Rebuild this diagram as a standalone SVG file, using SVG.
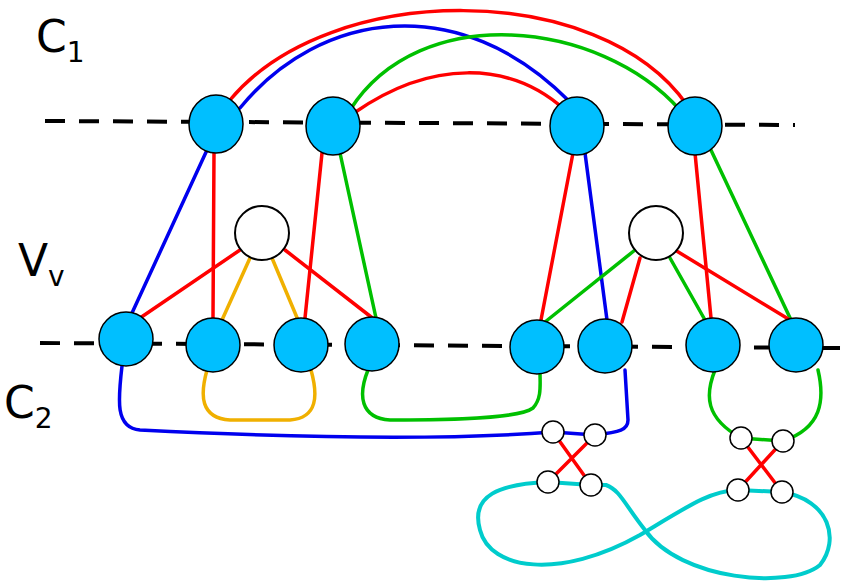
<svg xmlns="http://www.w3.org/2000/svg" width="843" height="584" viewBox="0 0 843 584">
<style>
.n{fill:#00bfff;stroke:#000;stroke-width:1.5}
.w{fill:#fff;stroke:#000;stroke-width:2}
.s{fill:#fff;stroke:#000;stroke-width:1.5}
.e{fill:none;stroke-width:3.5;stroke-linecap:round}
.r{stroke:#ff0000}.b{stroke:#0000ee}.g{stroke:#00c000}.o{stroke:#f0b000}.c{stroke:#00cccc;stroke-width:4}
.d{stroke:#000;stroke-width:4;stroke-dasharray:20,14;fill:none}
text{font-family:"DejaVu Sans",sans-serif;font-size:44px;fill:#000}
</style>
<rect width="843" height="584" fill="#fff"/>
<line class="d" x1="45" y1="121" x2="795" y2="125"/>
<line class="d" x1="40" y1="343" x2="840" y2="348"/>
<text x="36" y="52">C<tspan font-size="28" dy="10">1</tspan></text>
<text x="18" y="276">V<tspan font-size="28" dy="10">v</tspan></text>
<text x="4" y="418">C<tspan font-size="28" dy="10">2</tspan></text>
<g id="connectors">
<path class="e r" d="M230,100 C330,-20 600,-20 687,105"/>
<path class="e b" d="M240,108 C320,10 460,-10 570,102"/>
<path class="e g" d="M350,110 C420,0 600,20 680,110"/>
<path class="e r" d="M354,113 C430,60 510,60 565,110"/>
<path class="e b" d="M207,150 L132,313"/>
<path class="e r" d="M214,152 L213,318"/>
<path class="e r" d="M322,153 L305,318"/>
<path class="e g" d="M340,153 L376,318"/>
<path class="e r" d="M573,153 L541,320"/>
<path class="e b" d="M585,153 L607,320"/>
<path class="e r" d="M695,153 L711,318"/>
<path class="e g" d="M710,148 L791,320"/>
<path class="e r" d="M240,250 L140,318"/>
<path class="e o" d="M250,258 L222,320"/>
<path class="e o" d="M272,258 L298,320"/>
<path class="e r" d="M285,250 L375,320"/>
<path class="e g" d="M635,250 L545,322"/>
<path class="e r" d="M640,258 L622,322"/>
<path class="e g" d="M670,258 L705,320"/>
<path class="e r" d="M675,250 L790,320"/>
<path class="e b" d="M122,366 C118,400 115,428 140,430 C300,438 450,440 553,432 L595,435 C620,432 628,430 628,420 L625,370"/>
<path class="e o" d="M207,370 C200,395 200,418 230,420 L290,420 C318,418 318,395 311,370"/>
<path class="e g" d="M368,370 C358,395 360,418 390,420 C460,420 520,418 533,408 C542,398 540,385 540,372"/>
<path class="e g" d="M715,370 C705,395 705,418 741,438 L783,441 C822,428 825,400 818,370"/>
<path class="e r" d="M553,432 L591,485 M595,435 L548,482"/>
<path class="e r" d="M741,438 L782,492 M783,441 L738,490"/>
<path class="e c" d="M548,482 C500,484 470,495 480,530 C490,570 560,580 640,535 C690,505 710,491 738,490 L782,492 C830,500 840,540 820,565 C790,590 680,580 645,530 C625,505 620,490 606,485 L591,485 Z"/>
</g>
<g id="A"><ellipse class="n" cx="216" cy="124" rx="27" ry="29"/></g>
<g id="B"><ellipse class="n" cx="333" cy="126" rx="27" ry="29"/></g>
<g id="C"><ellipse class="n" cx="577" cy="126" rx="27" ry="29"/></g>
<g id="D"><ellipse class="n" cx="695" cy="126" rx="27" ry="29"/></g>
<g id="W1"><circle class="w" cx="262" cy="233" r="27"/></g>
<g id="W2"><circle class="w" cx="656" cy="233" r="27"/></g>
<g id="E"><circle class="n" cx="126" cy="339" r="27"/></g>
<g id="F"><circle class="n" cx="213" cy="345" r="27"/></g>
<g id="G"><circle class="n" cx="301" cy="345" r="27"/></g>
<g id="H"><circle class="n" cx="372" cy="344" r="27"/></g>
<g id="I"><circle class="n" cx="537" cy="347" r="27"/></g>
<g id="J"><circle class="n" cx="605" cy="346" r="27"/></g>
<g id="K"><circle class="n" cx="713" cy="345" r="27"/></g>
<g id="L"><circle class="n" cx="796" cy="345" r="27"/></g>
<g id="s1"><circle class="s" cx="553" cy="432" r="11"/></g>
<g id="s2"><circle class="s" cx="595" cy="435" r="11"/></g>
<g id="s3"><circle class="s" cx="548" cy="482" r="11"/></g>
<g id="s4"><circle class="s" cx="591" cy="485" r="11"/></g>
<g id="s5"><circle class="s" cx="741" cy="438" r="11"/></g>
<g id="s6"><circle class="s" cx="783" cy="441" r="11"/></g>
<g id="s7"><circle class="s" cx="738" cy="490" r="11"/></g>
<g id="s8"><circle class="s" cx="782" cy="492" r="11"/></g>
</svg>
